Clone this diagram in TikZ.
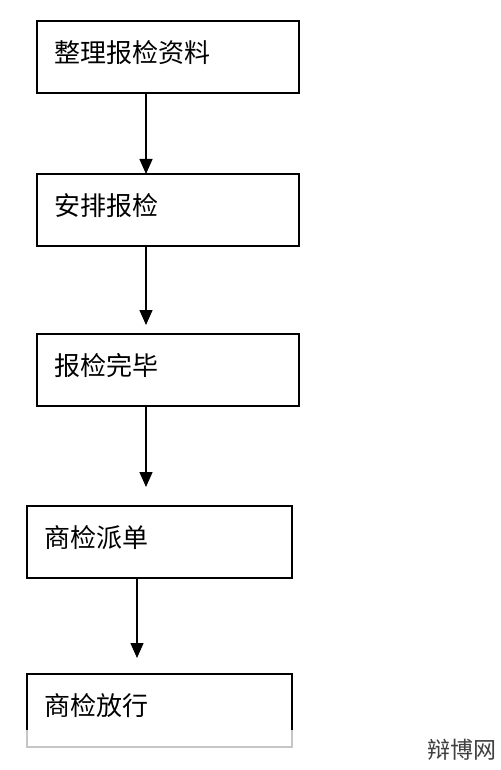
\documentclass[tikz,border=0pt]{standalone}
\usepackage{fontspec}
\newfontfamily\cjk{Noto Sans CJK SC}
\usetikzlibrary{arrows.meta,positioning}
\tikzset{
  stepbox/.style={rectangle, draw, line width=1.4pt, minimum height=72pt, text width=228pt, text depth=12pt, inner xsep=17pt, inner ysep=0pt, outer sep=0pt, align=left, font=\cjk\fontsize{26}{30}\selectfont},
  widebox/.style={stepbox, text width=231pt},
  arr/.style={-{Triangle[length=15pt,width=13pt]}, line width=1.3pt},
  mark text/.style={font=\cjk\fontsize{23}{23}\selectfont, text=black!75, inner sep=0pt}
}

\begin{document}
\begin{tikzpicture}[x=1pt,y=1pt]
\useasboundingbox[fill=white] (0,0) rectangle (500,-770);
\node[stepbox] (b1) at (168,-57) {整理报检资料};
\node[stepbox, below=81pt of b1] (b2) {安排报检};
\node[stepbox, below=88pt of b2] (b3) {报检完毕};
\node[widebox, below=100pt of b3, xshift=-8.5pt] (b4) {商检派单};
\node[widebox, below=96pt of b4, draw=gray!45, minimum height=73pt] (b5) {商检放行};
% upper part of the last box is drawn darker
\draw[line width=1.4pt] ([yshift=-56pt]b5.north west) -- (b5.north west) -- (b5.north east) -- ([yshift=-56pt]b5.north east);

\draw[arr] ([xshift=-22pt]b1.south) -- ([xshift=-22pt]b1.south |- b2.north);
\draw[arr, shorten >=9pt] ([xshift=-22pt]b2.south) -- ([xshift=-22pt]b2.south |- b3.north);
\draw[arr, shorten >=19pt] ([xshift=-22pt]b3.south) -- ([xshift=-22pt]b3.south |- b4.north);
\draw[arr, shorten >=16pt] ([xshift=-22.5pt]b4.south) -- ([xshift=-22.5pt]b4.south |- b5.north);

\node[mark text] (wm) at (462,-750) {辩博网};
\end{tikzpicture}
\end{document}
